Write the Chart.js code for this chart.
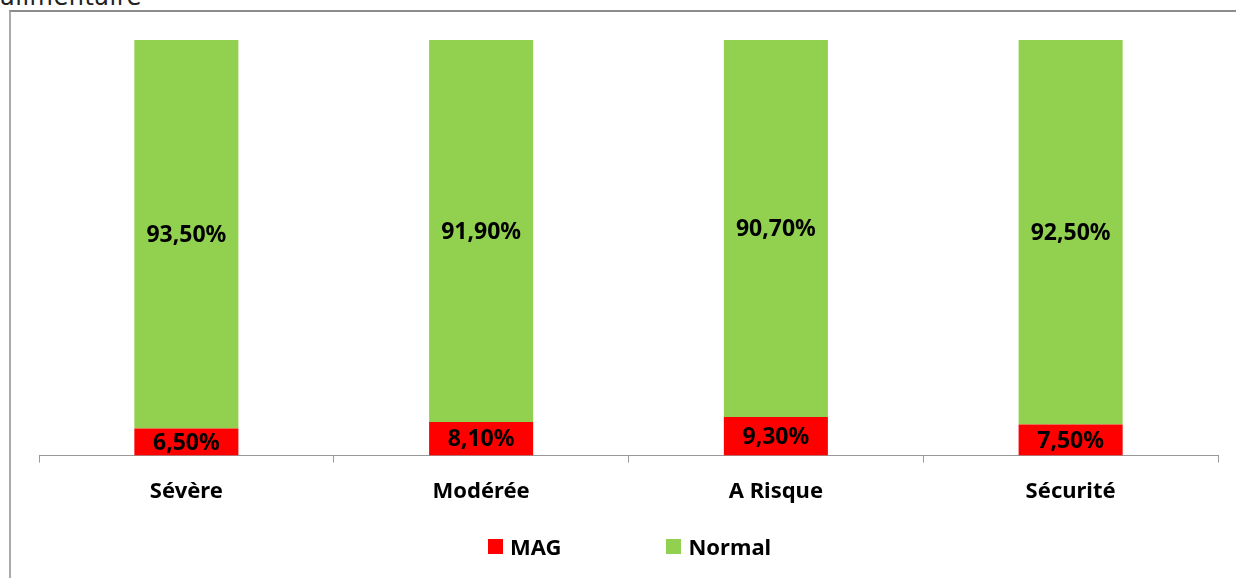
<!DOCTYPE html>
<html lang="fr">
<head>
  <meta charset="UTF-8">
  <title>MAG / Normal</title>
  <script src="https://cdn.jsdelivr.net/npm/chart.js"></script>
  <style>
    html, body { margin: 0; padding: 0; background: #fff; overflow: hidden; }
    .page { position: relative; width: 1236px; height: 578px; }
    .caption {
      position: absolute; left: 0; top: -17px;
      font-family: "DejaVu Sans", sans-serif; font-size: 24px; color: #222;
      letter-spacing: 0.5px;
    }
    .frame {
      position: absolute; left: 9px; top: 10px; width: 1240px; height: 580px;
      border-left: 2px solid #aaa; border-top: 2px solid #8c8c8c;
    }
    #chart { position: absolute; left: 0; top: 0; }
    .legend {
      position: absolute; left: 488px; top: 531px; display: flex;
      font-family: "Noto Sans", sans-serif; font-weight: bold; font-size: 22px; color: #000;
    }
    .legend span { display: flex; align-items: center; height: 30px; }
    .legend i { display: inline-block; width: 15px; height: 15px; margin-right: 7px; }
    .legend span + span { margin-left: 105px; }
  </style>
</head>
<body>
  <div class="page">
    <div class="caption">alimentaire</div>
    <div class="frame"></div>
    <canvas id="chart" width="1236" height="578"></canvas>
    <div class="legend" id="legend"></div>
  </div>

  <script>
    // categories and series
    const categories = ['Sévère', 'Modérée', 'A Risque', 'Sécurité'];
    const magValues = [6.5, 8.1, 9.3, 7.5];
    const normalValues = [93.5, 91.9, 90.7, 92.5];

    const labelFont = '"Noto Sans", sans-serif';

    // draw the value inside each bar segment
    const barLabels = {
      id: 'barLabels',
      afterDatasetsDraw(chart) {
        const c = chart.ctx;
        c.save();
        c.font = 'bold 23px ' + labelFont;
        c.fillStyle = '#000';
        c.textAlign = 'center';
        c.textBaseline = 'middle';
        chart.data.datasets.forEach((ds, i) => {
          chart.getDatasetMeta(i).data.forEach((bar, j) => {
            const txt = ds.data[j].toFixed(2).replace('.', ',') + '%';
            c.fillText(txt, bar.x, (bar.y + bar.base) / 2 + 1);
          });
        });
        c.restore();
      }
    };

    const chart = new Chart(document.getElementById('chart'), {
      type: 'bar',
      data: {
        labels: categories,
        datasets: [
          { label: 'MAG', data: magValues, backgroundColor: '#FF0000' },
          { label: 'Normal', data: normalValues, backgroundColor: '#92D050' }
        ]
      },
      options: {
        responsive: false,
        animation: false,
        barPercentage: 0.353,
        categoryPercentage: 1,
        layout: { padding: { left: 39, right: 18, top: 40, bottom: 57 } },
        scales: {
          x: {
            stacked: true,
            grid: { offset: true, drawOnChartArea: false, tickLength: 7, tickColor: '#999', lineWidth: 1 },
            border: { color: '#999', width: 1 },
            ticks: { color: '#000', padding: 16, font: { family: labelFont, size: 22, weight: 'bold' } }
          },
          y: { stacked: true, min: 0, max: 100, display: false }
        },
        plugins: {
          legend: { display: false },
          tooltip: { enabled: false }
        }
      },
      plugins: [barLabels]
    });

    // legend built from the datasets
    document.getElementById('legend').innerHTML = chart.data.datasets
      .map(ds => `<span><i style="background:${ds.backgroundColor}"></i>${ds.label}</span>`)
      .join('');
  </script>
</body>
</html>
